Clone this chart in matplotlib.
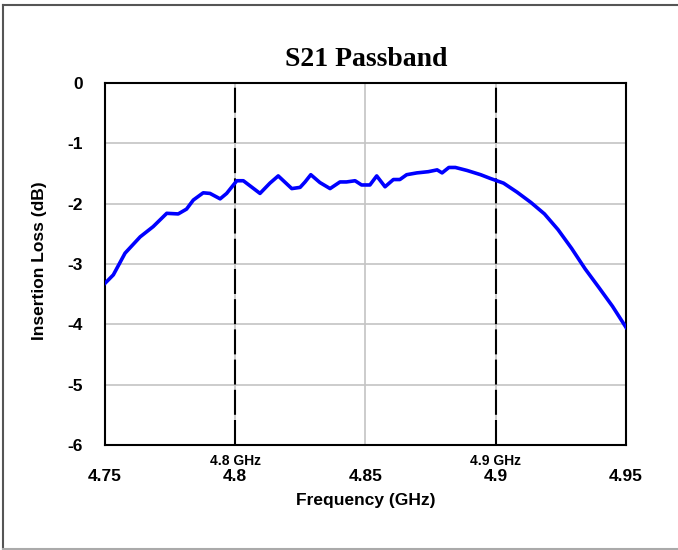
#!/usr/bin/env python3
"""
S21 passband plot: insertion loss vs frequency
"""

import matplotlib
matplotlib.use("Agg")
import matplotlib.pyplot as plt
from matplotlib.lines import Line2D
import matplotlib.transforms as mtransforms

# values
freq_ghz = [4.7500, 4.7532, 4.7577, 4.7635, 4.7685, 4.7737, 4.7781, 4.7813,
            4.7839, 4.7877, 4.7903, 4.7942, 4.7967, 4.8006, 4.8031, 4.8095,
            4.8133, 4.8165, 4.8217, 4.8249, 4.8268, 4.8290, 4.8325, 4.8364,
            4.8402, 4.8427, 4.8460, 4.8485, 4.8517, 4.8543, 4.8575, 4.8607,
            4.8632, 4.8658, 4.8697, 4.8741, 4.8775, 4.8794, 4.8820, 4.8845,
            4.8890, 4.8942, 4.8978, 4.9030, 4.9082, 4.9135, 4.9187, 4.9239,
            4.9291, 4.9343, 4.9396, 4.9448, 4.9500]
s21_db = [-3.32, -3.18, -2.82, -2.55, -2.38, -2.16, -2.17, -2.09,
          -1.94, -1.82, -1.83, -1.92, -1.83, -1.62, -1.62, -1.83,
          -1.66, -1.54, -1.75, -1.73, -1.64, -1.52, -1.65, -1.75,
          -1.64, -1.64, -1.62, -1.69, -1.69, -1.54, -1.72, -1.60,
          -1.60, -1.52, -1.49, -1.47, -1.44, -1.49, -1.40, -1.40,
          -1.45, -1.52, -1.58, -1.66, -1.81, -1.98, -2.17, -2.43,
          -2.74, -3.08, -3.39, -3.70, -4.05]

x_ticks = [4.75, 4.8, 4.85, 4.9, 4.95]
x_tick_labels = ["4.75", "4.8", "4.85", "4.9", "4.95"]
y_ticks = [0, -1, -2, -3, -4, -5, -6]
band_edges = [4.8, 4.9]
band_labels = ["4.8 GHz", "4.9 GHz"]

plt.rcParams["font.family"] = ["Liberation Sans", "DejaVu Sans"]

fig = plt.figure(figsize=(6.78, 5.5), dpi=100)
ax = fig.add_axes([105 / 678, 1 - 445 / 550, 521 / 678, 362 / 550])

ax.set_xlim(4.75, 4.95)
ax.set_ylim(-6, 0)
ax.set_xticks(x_ticks)
ax.set_xticklabels(x_tick_labels)
ax.set_yticks(y_ticks)
ax.set_yticklabels([str(v) for v in y_ticks])
ax.tick_params(axis="both", length=0, labelsize=12.5)
ax.tick_params(axis="x", pad=17)
ax.tick_params(axis="y", pad=16)
for lbl in ax.get_xticklabels() + ax.get_yticklabels():
    lbl.set_fontweight("bold")

ax.grid(True, color="#c4c4c4", linewidth=1.2)
ax.set_axisbelow(True)
for sp in ax.spines.values():
    sp.set_color("black")
    sp.set_linewidth(1.5)

# band edge markers
trans = mtransforms.blended_transform_factory(ax.transData, ax.transAxes)
for edge, txt in zip(band_edges, band_labels):
    ax.axvline(edge, color="black", linewidth=1.5, dashes=(12, 2.5), zorder=2)
    ax.text(edge, -0.044, txt, transform=trans, ha="center", va="center",
            fontsize=10, fontweight="bold", clip_on=False)

ax.plot(freq_ghz, s21_db, color="#0000ff", linewidth=2.6, zorder=3)

ax.set_xlabel("Frequency (GHz)", fontsize=12.5, fontweight="bold")
ax.xaxis.set_label_coords(0.5, -0.152)
ax.xaxis.label.set_verticalalignment("center")
ax.set_ylabel("Insertion Loss (dB)", fontsize=12.5, fontweight="bold")
ax.yaxis.set_label_coords(-0.125, 0.51)
ax.yaxis.label.set_verticalalignment("center")

fig.text(366 / 678, 1 - 59 / 550, "S21 Passband", ha="center", va="center",
         fontsize=20, fontweight="bold", family="Liberation Serif")

# outer frame (left, top, bottom)
fig.add_artist(Line2D([2.5 / 678, 2.5 / 678], [1 - 5 / 550, 1 - 548.5 / 550],
                      transform=fig.transFigure, color="#555555", linewidth=1.5))
fig.add_artist(Line2D([2.5 / 678, 1.0], [1 - 5 / 550, 1 - 5 / 550],
                      transform=fig.transFigure, color="#555555", linewidth=1.5))
fig.add_artist(Line2D([2.5 / 678, 1.0], [1 - 548.5 / 550, 1 - 548.5 / 550],
                      transform=fig.transFigure, color="#aaaaaa", linewidth=1.5))

fig.savefig("out.png", dpi=100)
plt.close(fig)
